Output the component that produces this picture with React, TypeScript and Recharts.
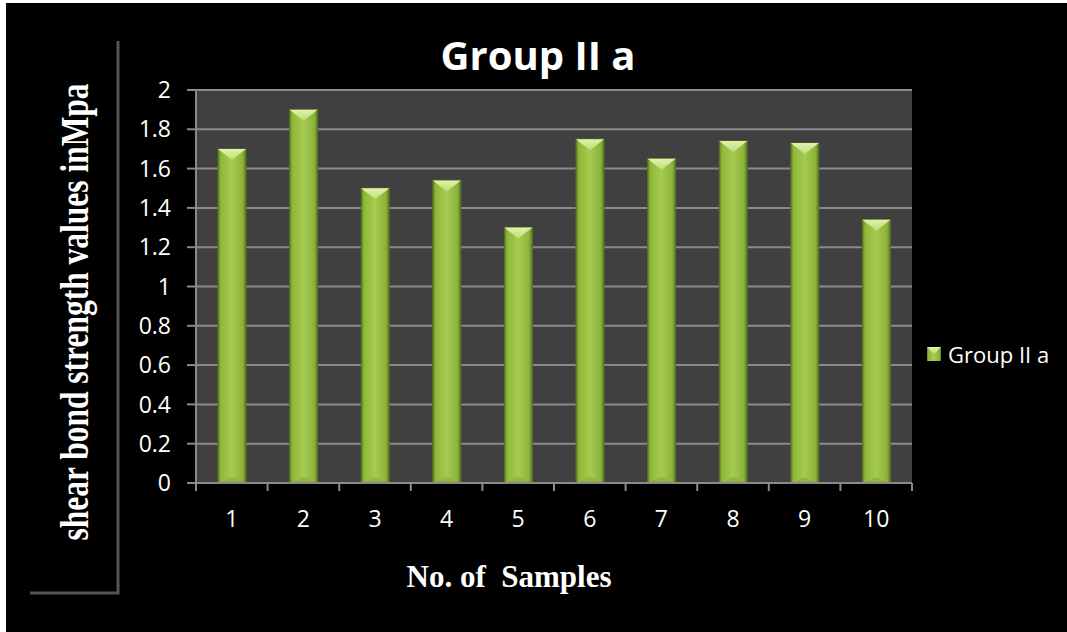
import { Bar, BarChart, CartesianGrid, Legend, XAxis, YAxis } from 'recharts';

const samples = ['1', '2', '3', '4', '5', '6', '7', '8', '9', '10'];
const strength = [1.7, 1.9, 1.5, 1.54, 1.3, 1.75, 1.65, 1.74, 1.73, 1.34];
const yTicks = [0, 0.2, 0.4, 0.6, 0.8, 1, 1.2, 1.4, 1.6, 1.8, 2];
const seriesName = 'Group II a';

const data = samples.map((s, i) => ({ sample: s, value: strength[i] }));

const tickFont = { fill: '#ffffff', fontSize: 23, fontFamily: 'Open Sans' };

// tick label at band centre, tick mark on the band edges (like Excel)
function SampleTick(props: any) {
	const { x, y, payload, width, visibleTicksCount, index } = props;
	const half = payload && payload.offset ? payload.offset : width / visibleTicksCount / 2;
	const last = index === visibleTicksCount - 1;
	return (
		<g>
			<line x1={x - half} y1={y} x2={x - half} y2={y + 8} stroke="#8a8a8a" strokeWidth={2} />
			{last && <line x1={x + half} y1={y} x2={x + half} y2={y + 8} stroke="#8a8a8a" strokeWidth={2} />}
			<text x={x} y={y + 44} textAnchor="middle" {...tickFont}>
				{payload.value}
			</text>
		</g>
	);
}

function BevelBar(props: any) {
	const { x, y, width, height } = props;
	if (!height || height <= 0) return null;
	const bev = Math.min(11, height / 2);
	return (
		<g>
			<rect x={x} y={y} width={width} height={height} fill="url(#barBody)" stroke="#56731f" strokeWidth={1} />
			<polygon points={`${x},${y} ${x + width},${y} ${x + width / 2},${y + bev}`} fill="url(#barTop)" />
			<polygon
				points={`${x + 1},${y + height} ${x + width - 1},${y + height} ${x + width / 2},${y + height - 6}`}
				fill="#86a83a"
				opacity={0.6}
			/>
		</g>
	);
}

function LegendBox() {
	return (
		<div style={{ display: 'flex', alignItems: 'center', fontFamily: 'Open Sans', fontSize: 22, color: '#ffffff' }}>
			<svg width={14} height={14} style={{ marginRight: 7 }}>
				<rect x={0} y={0} width={14} height={14} fill="url(#barBody)" />
				<polygon points="0,0 14,0 7,7" fill="url(#barTop)" />
			</svg>
			<span>{seriesName}</span>
		</div>
	);
}

export default function App() {
	return (
		<div style={{ position: 'absolute', left: 0, top: 0, width: 1067, height: 632, background: '#ffffff' }}>
			<div style={{ position: 'absolute', left: 6, top: 3, width: 1061, height: 629, background: '#000000' }} />
			<div style={{ position: 'absolute', left: 0, top: 0 }}>
				<BarChart
					width={1067}
					height={632}
					data={data}
					margin={{ top: 90, right: 155, left: 136, bottom: 99 }}
				>
					<defs>
						<linearGradient id="barBody" x1="0" y1="0" x2="1" y2="0">
							<stop offset="0%" stopColor="#5f7f25" />
							<stop offset="10%" stopColor="#8fb83a" />
							<stop offset="50%" stopColor="#a6cb50" />
							<stop offset="88%" stopColor="#8cb339" />
							<stop offset="100%" stopColor="#5a7a22" />
						</linearGradient>
						<linearGradient id="barTop" x1="0" y1="0" x2="0" y2="1">
							<stop offset="0%" stopColor="#e2f2ae" />
							<stop offset="100%" stopColor="#bedc74" />
						</linearGradient>
					</defs>
					<CartesianGrid
						vertical={false}
						fill="#404040"
						fillOpacity={1}
						stroke="#8a8a8a"
						strokeWidth={2}
						strokeDasharray="0"
					/>
					<XAxis
						dataKey="sample"
						height={50}
						tickLine={false}
						tickSize={0}
						tickMargin={0}
						tick={<SampleTick />}
						interval={0}
						stroke="#8a8a8a"
						strokeWidth={2}
					/>
					<YAxis
						width={60}
						domain={[0, 2]}
						ticks={yTicks}
						interval={0}
						tickSize={9}
						tickMargin={16}
						tick={tickFont}
						stroke="#8a8a8a"
						strokeWidth={2}
					/>
					<Legend
						layout="horizontal"
						verticalAlign="middle"
						align="center"
						wrapperStyle={{ left: 927, top: 339, width: 140 }}
						content={() => <LegendBox />}
					/>
					<Bar
						dataKey="value"
						name={seriesName}
						barSize={28}
						shape={BevelBar}
						isAnimationActive={false}
					/>
				</BarChart>
			</div>
			<svg
				width={1067}
				height={632}
				style={{ position: 'absolute', left: 0, top: 0, pointerEvents: 'none' }}
			>
				<text
					x={538}
					y={70}
					textAnchor="middle"
					fill="#ffffff"
					fontFamily="Open Sans"
					fontWeight="bold"
					fontSize={40}
				>
					Group II a
				</text>
				<text
					transform="translate(88, 312) rotate(-90) scale(1, 1.3)"
					textAnchor="middle"
					fill="#ffffff"
					fontFamily="Liberation Serif"
					fontWeight="bold"
					fontSize={31.5}
				>
					shear bond strength values inMpa
				</text>
				<text
					x={509}
					y={587}
					textAnchor="middle"
					fill="#ffffff"
					fontFamily="Liberation Serif"
					fontWeight="bold"
					fontSize={31}
					style={{ whiteSpace: 'pre' }}
				>
					{'No. of  Samples'}
				</text>
				<polyline points="118,41 118,593 30,593" fill="none" stroke="#555555" strokeWidth={3} />
			</svg>
		</div>
	);
}
